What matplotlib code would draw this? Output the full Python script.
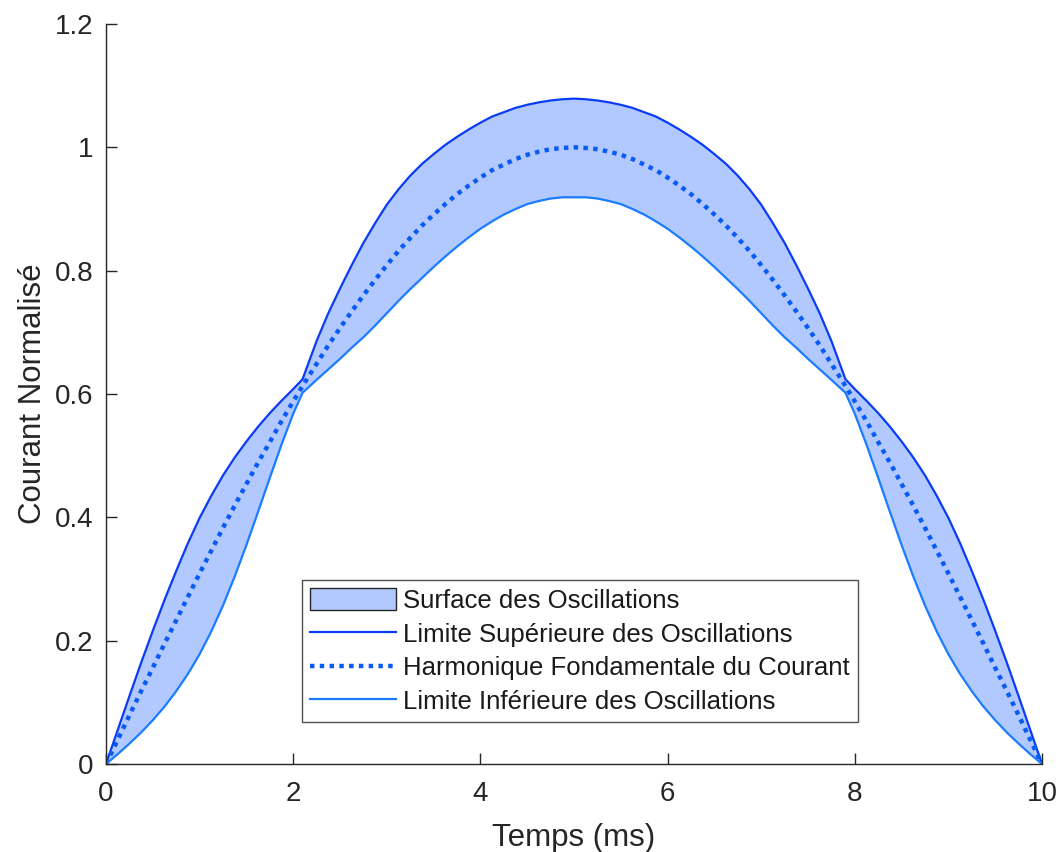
import matplotlib
matplotlib.use('Agg')
import matplotlib.pyplot as plt

# ----------------------------------------------------------------------------------------------------------------------
#  DATA
# ----------------------------------------------------------------------------------------------------------------------
time_rise = [0.0, 0.125, 0.25, 0.375, 0.5, 0.625, 0.75, 0.875, 1.0, 1.125, 1.25, 1.375, 1.5, 1.625, 1.75, 1.875,
             2.0, 2.1, 2.25, 2.375, 2.5, 2.625, 2.75, 2.875, 3.0, 3.125, 3.25, 3.375, 3.5, 3.625, 3.75, 3.875,
             4.0, 4.125, 4.25, 4.375, 4.5, 4.625, 4.75, 4.875, 5.0]
time_fall = [5.125, 5.25, 5.375, 5.5, 5.625, 5.75, 5.875, 6.0, 6.125, 6.25, 6.375, 6.5, 6.625, 6.75, 6.875, 7.0,
             7.125, 7.25, 7.375, 7.5, 7.625, 7.75, 7.9, 8.0, 8.125, 8.25, 8.375, 8.5, 8.625, 8.75, 8.875, 9.0,
             9.125, 9.25, 9.375, 9.5, 9.625, 9.75, 9.875, 10.0]

fundamental_rise = [0.0, 0.039, 0.079, 0.118, 0.156, 0.195, 0.233, 0.271, 0.309, 0.346, 0.383, 0.419, 0.454,
                    0.489, 0.522, 0.556, 0.588, 0.613, 0.649, 0.679, 0.707, 0.734, 0.760, 0.785, 0.809, 0.832,
                    0.853, 0.873, 0.891, 0.908, 0.924, 0.938, 0.951, 0.963, 0.972, 0.981, 0.988, 0.993, 0.997,
                    0.999, 1.0]
fundamental_fall = [0.999, 0.997, 0.993, 0.988, 0.981, 0.972, 0.963, 0.951, 0.938, 0.924, 0.908, 0.891, 0.873,
                    0.853, 0.832, 0.809, 0.785, 0.760, 0.734, 0.707, 0.679, 0.649, 0.613, 0.588, 0.556, 0.522,
                    0.489, 0.454, 0.419, 0.383, 0.346, 0.309, 0.271, 0.233, 0.195, 0.156, 0.118, 0.079, 0.039, 0.0]

upper_rise = [0.0, 0.055, 0.110, 0.164, 0.216, 0.266, 0.313, 0.358, 0.399, 0.435, 0.468, 0.497, 0.523, 0.547,
              0.569, 0.589, 0.608, 0.624, 0.686, 0.731, 0.771, 0.809, 0.845, 0.877, 0.907, 0.932, 0.954, 0.973,
              0.989, 1.004, 1.017, 1.029, 1.040, 1.050, 1.057, 1.064, 1.069, 1.073, 1.076, 1.078, 1.079]
upper_fall = [1.078, 1.076, 1.073, 1.069, 1.064, 1.057, 1.050, 1.040, 1.029, 1.017, 1.004, 0.989, 0.973, 0.954,
              0.932, 0.907, 0.877, 0.845, 0.809, 0.771, 0.731, 0.686, 0.624, 0.608, 0.589, 0.569, 0.547, 0.523,
              0.497, 0.468, 0.435, 0.399, 0.358, 0.313, 0.266, 0.216, 0.164, 0.110, 0.055, 0.0]

lower_rise = [0.0, 0.016, 0.033, 0.051, 0.071, 0.093, 0.118, 0.146, 0.178, 0.215, 0.257, 0.304, 0.355, 0.409,
              0.464, 0.518, 0.568, 0.602, 0.623, 0.640, 0.657, 0.675, 0.692, 0.711, 0.731, 0.751, 0.770, 0.788,
              0.806, 0.823, 0.839, 0.854, 0.868, 0.880, 0.891, 0.900, 0.908, 0.913, 0.917, 0.919, 0.919]
lower_fall = [0.919, 0.917, 0.913, 0.908, 0.900, 0.891, 0.880, 0.868, 0.854, 0.839, 0.823, 0.806, 0.788, 0.770,
              0.751, 0.731, 0.711, 0.692, 0.675, 0.657, 0.640, 0.623, 0.602, 0.568, 0.518, 0.464, 0.409, 0.355,
              0.304, 0.257, 0.215, 0.178, 0.146, 0.118, 0.093, 0.071, 0.051, 0.033, 0.016, 0.0]

x_ticks = [0, 2, 4, 6, 8, 10]
y_ticks = [0, 0.2, 0.4, 0.6, 0.8, 1.0, 1.2]
y_tick_labels = ['0', '0.2', '0.4', '0.6', '0.8', '1', '1.2']

time_ms     = time_rise + time_fall
fundamental = fundamental_rise + fundamental_fall
upper_limit = upper_rise + upper_fall
lower_limit = lower_rise + lower_fall

# ----------------------------------------------------------------------------------------------------------------------
#  PLOT
# ----------------------------------------------------------------------------------------------------------------------
plt.rcParams['font.family'] = ['Liberation Sans', 'DejaVu Sans']
text_color = '#262626'

fig = plt.figure(figsize=(10.61, 8.52), dpi=100)
axis_1 = fig.add_axes([0.0999, 0.1033, 0.8822, 0.8685])

axis_1.fill_between(time_ms, lower_limit, upper_limit, facecolor='#b1c9ff', edgecolor='none',
                    label='Surface des Oscillations')
axis_1.plot(time_ms, upper_limit, color='#0a3cf5', linewidth=1.6, label='Limite Supérieure des Oscillations')
axis_1.plot(time_ms, fundamental, color='#0a5af5', linewidth=3.2, linestyle=(0, (1, 1.2)),
            label='Harmonique Fondamentale du Courant')
axis_1.plot(time_ms, lower_limit, color='#1a7cff', linewidth=1.6, label='Limite Inférieure des Oscillations')

axis_1.set_xlim(0, 10)
axis_1.set_ylim(0, 1.2)
axis_1.set_xticks(x_ticks)
axis_1.set_yticks(y_ticks)
axis_1.set_yticklabels(y_tick_labels)
axis_1.tick_params(direction='in', length=8, width=1, colors=text_color, labelsize=20, pad=9)
axis_1.tick_params(axis='x', pad=12)
for side in ['top', 'right']:
    axis_1.spines[side].set_visible(False)
for side in ['left', 'bottom']:
    axis_1.spines[side].set_color(text_color)
    axis_1.spines[side].set_linewidth(1)

axis_1.set_xlabel('Temps (ms)', fontsize=22.5, color=text_color, labelpad=12)
axis_1.set_ylabel('Courant Normalisé', fontsize=22.5, color=text_color, labelpad=5)

# legend with patch handle for the fill
handles, labels = axis_1.get_legend_handles_labels()
leg = axis_1.legend(handles, labels, loc='upper left', bbox_to_anchor=(0.2094, 0.2486), borderaxespad=0,
                    fontsize=18.5, frameon=True, fancybox=False, handlelength=3.35, handleheight=0.9,
                    handletextpad=0.25, labelspacing=0.36, borderpad=0.32)
leg.get_frame().set_edgecolor(text_color)
leg.get_frame().set_linewidth(1)
leg.legend_handles[0].set_edgecolor(text_color)
leg.legend_handles[0].set_linewidth(1)
for text in leg.get_texts():
    text.set_color('#1a1a1a')

fig.savefig('out.png', dpi=100)
